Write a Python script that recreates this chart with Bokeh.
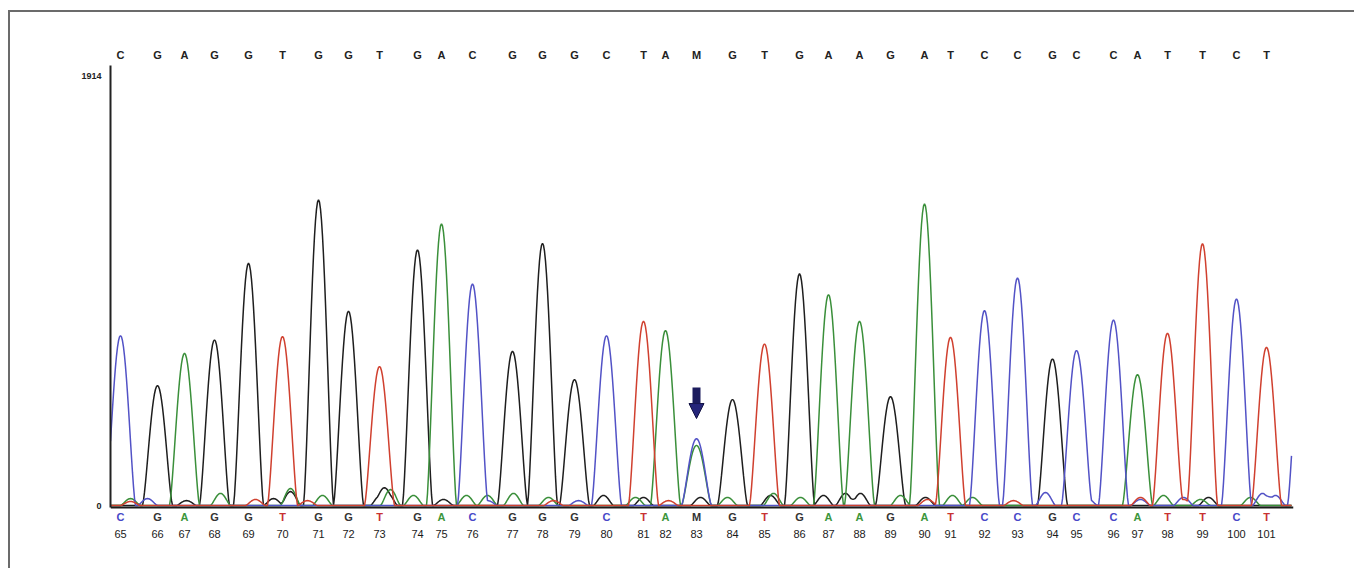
import numpy as np
from bokeh.plotting import figure
from bokeh.models import (Range1d, FixedTicker, LinearAxis, Arrow, NormalHead, Span)
from bokeh.core.properties import value
from bokeh.embed import file_html
from bokeh.resources import INLINE

# ---------------- data ----------------
base_numbers = list(range(65, 102))
called_bases = ["C", "G", "A", "G", "G", "T", "G", "G", "T", "G", "A", "C", "G",
                "G", "G", "C", "T", "A", "M", "G", "T", "G", "A", "A", "G", "A",
                "T", "C", "C", "G", "C", "C", "A", "T", "T", "C", "T"]
# scan position of each called peak
peak_pos = [10, 47, 74, 104, 138, 172, 208, 238, 269, 307, 331, 362, 402, 432,
            464, 496, 533, 555, 586, 622, 654, 689, 718, 749, 780, 814, 840,
            874, 907, 942, 966, 1003, 1027, 1057, 1092, 1126, 1156]
# signal height of the called peak (channel of the base; M -> C)
peak_height = [758, 535, 679, 739, 1081, 754, 1364, 867, 620, 1141, 1257, 989,
               688, 1170, 562, 758, 822, 781, 298, 473, 721, 1034, 941, 822,
               486, 1346, 751, 870, 1016, 654, 692, 828, 584, 769, 1168, 922, 706]
# secondary peaks: heterozygous A under M, and the next C after the window
extra_pos = [586, 1192]
extra_channel = ["A", "C"]
extra_height = [268, 780]

# low background signal per channel (position, height)
noise_A_pos = [20, 110, 180, 212, 280, 303, 356, 377, 403, 438, 525, 617, 663,
               690, 790, 842, 862, 1053, 1090, 1140]
noise_A_h = [31, 54, 76, 45, 71, 45, 45, 45, 54, 36, 36, 36, 54, 36, 45, 45, 36,
             45, 27, 36]
noise_G_pos = [76, 163, 180, 270, 277, 333, 493, 533, 590, 660, 713, 735, 750,
               815, 1098]
noise_G_h = [22, 31, 62, 45, 54, 27, 45, 36, 36, 45, 45, 54, 54, 36, 36]
noise_T_pos = [20, 145, 197, 443, 558, 817, 903, 1030, 1073]
noise_T_h = [18, 27, 22, 22, 22, 27, 22, 36, 27]
noise_C_pos = [37, 377, 468, 935, 977, 1030, 1073, 1152, 1165]
noise_C_h = [31, 22, 22, 58, 31, 27, 36, 54, 45]

y_ticks = [0, 1914]
baseline_level = -8.9      # signal axis line, just under zero
call_row_level = -53.5     # row of coloured base calls under the axis
arrow_top = 526
arrow_tip = 388
# -----------------------------------------------------------------

colors = {"A": "#3a8f3a", "C": "#5252c6", "G": "#1e1e1e", "T": "#d0402f"}
label_colors = {"A": "#3c963c", "C": "#4848c8", "G": "#333333", "T": "#c83232",
                "M": "#333333"}


def peak_shape(d, w, n):
    out = np.zeros_like(d)
    m = np.abs(d) < w
    out[m] = np.cos(np.pi * d[m] / (2 * w)) ** n
    return out


xs = np.arange(0, 1182, 1.0)
traces = {ch: np.zeros_like(xs) for ch in "ACGT"}
for pos, h, b in zip(peak_pos, peak_height, called_bases):
    ch = "C" if b == "M" else b
    traces[ch] += h * peak_shape(xs - pos, 15.0, 1.4)
for pos, ch, h in zip(extra_pos, extra_channel, extra_height):
    traces[ch] += h * peak_shape(xs - pos, 15.0, 1.4)
noise = {"A": (noise_A_pos, noise_A_h), "G": (noise_G_pos, noise_G_h),
         "T": (noise_T_pos, noise_T_h), "C": (noise_C_pos, noise_C_h)}
for ch, (ps, hs) in noise.items():
    for pos, h in zip(ps, hs):
        traces[ch] += h * peak_shape(xs - pos, 10.0, 1.4)

p = figure(width=1346, height=558, x_range=Range1d(0, 1183),
           y_range=Range1d(-80.3, 1963), output_backend="svg",
           toolbar_location=None, min_border_left=100, min_border_right=63,
           min_border_top=53, min_border_bottom=47)
p.styles = {"position": "relative", "left": "8px", "top": "10px",
            "border-top": "2px solid #6b6b6b", "border-left": "2px solid #6b6b6b"}
p.outline_line_color = None
p.grid.visible = False
p.background_fill_color = "white"

for ch in ["G", "A", "C", "T"]:
    p.line(xs, traces[ch], line_color=colors[ch], line_width=1.5)

# signal axis line along the baseline
p.add_layout(Span(location=baseline_level, dimension="width",
                  line_color="#1a1a1a", line_width=2))

# y axis
ya = p.yaxis[0]
ya.ticker = FixedTicker(ticks=y_ticks)
ya.bounds = (baseline_level, 1963)
ya.major_tick_line_color = None
ya.minor_tick_line_color = None
ya.axis_line_color = "#222222"
ya.axis_line_width = 2
ya.major_label_standoff = 3
ya.major_label_text_font = "Liberation Sans"
ya.major_label_text_font_size = "9px"
ya.major_label_text_font_style = "bold"
ya.major_label_text_baseline = "bottom"
ya.major_label_text_color = "#222222"

# bottom axis: base numbers
xa = p.xaxis[0]
xa.ticker = FixedTicker(ticks=peak_pos)
xa.major_label_overrides = {pos: str(n) for pos, n in zip(peak_pos, base_numbers)}
xa.major_tick_line_color = None
xa.minor_tick_line_color = None
xa.axis_line_color = None
xa.major_label_standoff = 0
xa.major_label_text_font = "Liberation Sans"
xa.major_label_text_font_size = "11px"
xa.major_label_text_color = "#1a1a1a"

# top axis: called sequence
top = LinearAxis(ticker=FixedTicker(ticks=peak_pos),
                 major_label_overrides={pos: b for pos, b in zip(peak_pos, called_bases)})
top.axis_line_color = None
top.major_tick_line_color = None
top.minor_tick_line_color = None
top.major_label_standoff = -1
top.major_label_text_font = "Liberation Sans"
top.major_label_text_font_size = "11px"
top.major_label_text_font_style = "bold"
top.major_label_text_color = "#222222"
p.add_layout(top, "above")

# coloured base calls under the axis line
p.text(x=peak_pos, y=[call_row_level] * len(peak_pos), text=called_bases,
       text_color=[label_colors[b] for b in called_bases],
       text_align="center", text_baseline="middle",
       text_font=value("Liberation Sans"), text_font_size="11px",
       text_font_style="bold")

# arrow marking the heterozygous position
m_pos = peak_pos[called_bases.index("M")]
p.add_layout(Arrow(end=NormalHead(size=15, fill_color="#25257a", line_color="#111144"),
                   x_start=m_pos, y_start=arrow_top, x_end=m_pos, y_end=arrow_tip,
                   line_width=8, line_color="#1c1c5e"))

open("out.html", "w").write(file_html(p, INLINE))
